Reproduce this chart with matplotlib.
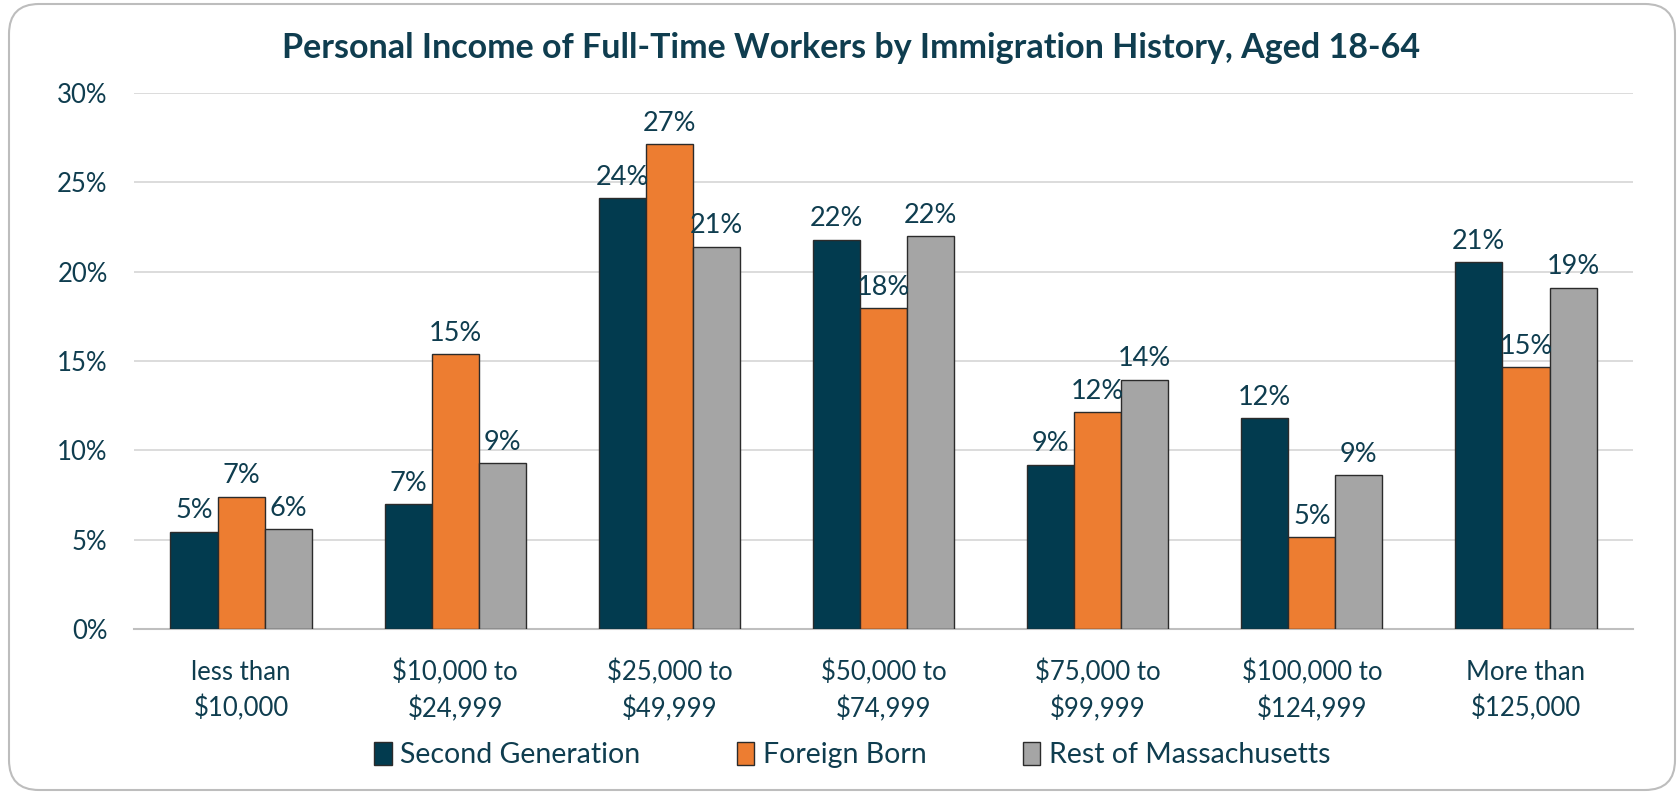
import matplotlib
matplotlib.use("Agg")
import matplotlib.pyplot as plt
import numpy as np
from matplotlib.patches import FancyBboxPatch

categories = ["less than\n$10,000", "$10,000 to\n$24,999", "$25,000 to\n$49,999",
              "$50,000 to\n$74,999", "$75,000 to\n$99,999", "$100,000 to\n$124,999",
              "More than\n$125,000"]
second_gen = [5.45, 7.0, 24.1, 21.8, 9.2, 11.8, 20.55]
foreign_born = [7.4, 15.4, 27.15, 17.95, 12.15, 5.15, 14.65]
rest_ma = [5.6, 9.3, 21.4, 22.0, 13.95, 8.6, 19.1]
series_names = ["Second Generation", "Foreign Born", "Rest of Massachusetts"]
yticks = [0, 5, 10, 15, 20, 25, 30]

text_color = "#0f3d4f"
colors = ["#023b4f", "#ed7d31", "#a5a5a5"]

plt.rcParams["font.family"] = ["Lato", "DejaVu Sans"]

fig = plt.figure(figsize=(16.78, 7.93), dpi=100)
ax = fig.add_axes([0.0799, 0.2068, 0.8933, 0.6759])

x = np.arange(len(categories))
width = 0.22
all_series = [second_gen, foreign_born, rest_ma]
for i, (vals, name, col) in enumerate(zip(all_series, series_names, colors)):
    pos = x + (i - 1) * width
    bars = ax.bar(pos, vals, width, color=col, edgecolor="#2b2b2b", linewidth=1.0,
                  label=name, zorder=3)
    for b, v in zip(bars, vals):
        ax.annotate(f"{round(v):.0f}%", (b.get_x() + b.get_width() / 2, v),
                    xytext=(0, 6), textcoords="offset points", ha="center", va="bottom",
                    fontsize=19.5, color=text_color, zorder=4)

ax.set_xlim(-0.5, len(categories) - 0.5)
ax.set_ylim(0, 30)
ax.set_yticks(yticks)
ax.set_yticklabels([f"{t}%" for t in yticks])
ax.set_xticks(x)
ax.set_xticklabels(categories, linespacing=1.5)
ax.tick_params(axis="both", length=0, labelsize=18.5, labelcolor=text_color)
ax.tick_params(axis="y", pad=19)
ax.tick_params(axis="x", pad=22)
ax.yaxis.grid(True, color="#d9d9d9", linewidth=1.3, zorder=0)
ax.set_axisbelow(True)
for s in ["left", "right", "top"]:
    ax.spines[s].set_visible(False)
ax.spines["bottom"].set_color("#bfbfbf")
ax.spines["bottom"].set_linewidth(1.5)

fig.text(0.507, 0.94, "Personal Income of Full-Time Workers by Immigration History, Aged 18-64",
         ha="center", va="center", fontsize=24.5, fontweight="bold", color=text_color)

leg = fig.legend(loc="center", bbox_to_anchor=(0.508, 0.048), ncol=3, frameon=False,
                 fontsize=20.5, handlelength=0.6, handleheight=0.9, handletextpad=0.3,
                 columnspacing=3.4)
for t in leg.get_texts():
    t.set_color(text_color)

border = FancyBboxPatch((9, 3), 1666, 786, boxstyle="round,pad=0,rounding_size=30",
                        transform=None, facecolor="none", edgecolor="#bdbdbd",
                        linewidth=1.5, zorder=0)
fig.patches.append(border)

fig.savefig("out.png", dpi=100)
